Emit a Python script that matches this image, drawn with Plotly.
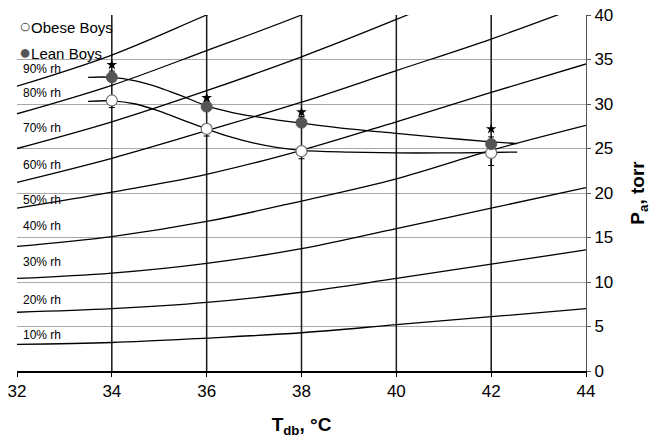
import plotly.graph_objects as go

rh_x = [32, 34, 36, 38, 40, 42, 44]
rh_levels = ["10% rh", "20% rh", "30% rh", "40% rh", "50% rh", "60% rh", "70% rh", "80% rh", "90% rh"]
rh_values = [
    [3.0, 3.2, 3.7, 4.3, 5.2, 6.1, 7.0],
    [6.6, 7.0, 7.7, 8.85, 10.4, 12.0, 13.6],
    [10.4, 11.0, 12.1, 13.75, 16.0, 18.3, 20.6],
    [14.0, 15.1, 16.8, 19.1, 21.6, 24.8, 27.6],
    [18.3, 20.1, 22.1, 24.8, 28.0, 31.3, 34.5],
    [21.2, 23.9, 27.0, 30.2, 33.75, 37.3, 41.2],
    [25.0, 28.0, 31.5, 35.3, 39.5, 44.0, 49.0],
    [28.9, 32.1, 36.0, 40.0, 44.5, 49.5, 55.0],
    [32.0, 35.5, 40.0, 44.5, 49.5, 55.5, 61.5],
]
rh_label_y = [4.1, 8.0, 12.2, 16.3, 19.2, 23.2, 27.3, 31.2, 33.9]

# measured means
temps = [34, 36, 38, 42]
obese_pa = [30.4, 27.2, 24.7, 24.5]
obese_err = [0.8, 0.8, 0.85, 1.4]
lean_pa = [33.0, 29.7, 27.9, 25.5]
lean_err = [0.7, 0.6, 0.7, 0.8]
star_pa = [34.4, 30.7, 29.1, 27.2]

# smooth fitted curves through the means
fit_x = [33.5, 34, 34.5, 35, 35.5, 36, 36.5, 37, 37.5, 38, 39, 40, 41, 42, 42.55]
obese_fit = [30.3, 30.35, 30.0, 29.2, 28.2, 27.2, 26.3, 25.6, 25.1, 24.8, 24.6, 24.5, 24.5, 24.55, 24.6]
lean_fit = [33.0, 33.0, 32.6, 31.85, 30.85, 29.8, 29.1, 28.6, 28.2, 27.85, 27.2, 26.7, 26.2, 25.75, 25.55]

vline_x = [34, 36, 38, 40, 42]
y_range = [0, 40]

FONT = "Liberation Sans, Arial, sans-serif"

fig = go.Figure()

# heavy vertical reference lines
vx, vy = [], []
for v in vline_x:
    vx += [v, v, None]
    vy += [y_range[0], y_range[1], None]
fig.add_trace(go.Scatter(x=vx, y=vy, mode="lines", line=dict(color="#1a1a1a", width=1.5),
                         hoverinfo="skip", showlegend=False))

for name, vals in zip(rh_levels, rh_values):
    fig.add_trace(go.Scatter(x=rh_x, y=vals, mode="lines", name=name,
                             line=dict(color="black", width=1.3, shape="spline"),
                             showlegend=False))

fig.add_trace(go.Scatter(x=fit_x, y=lean_fit, mode="lines", line=dict(color="black", width=1.3, shape="spline"),
                         showlegend=False))
fig.add_trace(go.Scatter(x=fit_x, y=obese_fit, mode="lines", line=dict(color="black", width=1.3, shape="spline"),
                         showlegend=False))

fig.add_trace(go.Scatter(
    x=temps, y=obese_pa, mode="markers", name="Obese Boys",
    marker=dict(symbol="circle", size=11, color="white", line=dict(color="#6e6e6e", width=1.2)),
    error_y=dict(type="data", symmetric=False, array=[0] * len(temps), arrayminus=obese_err,
                 color="black", thickness=1, width=3),
    showlegend=False))
fig.add_trace(go.Scatter(
    x=temps, y=lean_pa, mode="markers", name="Lean Boys",
    marker=dict(symbol="circle", size=11, color="#555555", line=dict(color="#555555", width=1)),
    error_y=dict(type="data", symmetric=False, array=lean_err, arrayminus=[0] * len(temps),
                 color="black", thickness=1, width=3),
    showlegend=False))
fig.add_trace(go.Scatter(x=temps, y=star_pa, mode="markers", marker=dict(symbol="star", size=8, color="black"),
                         hoverinfo="skip", showlegend=False))

# rh labels along the left edge
for name, ly in zip(rh_levels, rh_label_y):
    fig.add_annotation(x=32.08, y=ly, xref="x", yref="y", text=name, showarrow=False,
                       xanchor="left", yanchor="middle", font=dict(family=FONT, size=12, color="black"))

# legend written out as text
fig.add_annotation(x=0.0, y=0.968, xref="paper", yref="paper",
                   text="<span style='color:#555555;font-size:20px'>○</span>Obese Boys", showarrow=False,
                   xanchor="left", yanchor="middle", font=dict(family=FONT, size=15, color="black"))
fig.add_annotation(x=0.0, y=0.897, xref="paper", yref="paper",
                   text="<span style='color:#555555;font-size:20px'>●</span>Lean Boys", showarrow=False,
                   xanchor="left", yanchor="middle", font=dict(family=FONT, size=15, color="black"))

fig.update_layout(
    width=663, height=446,
    margin=dict(l=17, r=77, t=15, b=75),
    paper_bgcolor="white", plot_bgcolor="white",
    font=dict(family=FONT, color="black"),
    xaxis=dict(range=[32, 44], tickvals=[32, 34, 36, 38, 40, 42, 44], automargin=False,
               showgrid=True, gridcolor="#a8a8a8", gridwidth=1, zeroline=False,
               showline=True, linecolor="black", linewidth=1.5,
               ticks="outside", ticklen=4, tickcolor="black",
               tickfont=dict(size=17, family=FONT),
               title=dict(text="<b>T<sub>db</sub>, °C</b>", font=dict(size=19, family=FONT), standoff=18)),
    yaxis=dict(range=y_range, tickvals=[0, 5, 10, 15, 20, 25, 30, 35, 40], side="right", automargin=False,
               showgrid=True, gridcolor="#a8a8a8", gridwidth=1, zeroline=False,
               showline=True, linecolor="#555555", linewidth=1,
               ticks="outside", ticklen=4, tickcolor="#555555",
               tickfont=dict(size=17, family=FONT),
               title=dict(text="<b>P<sub>a</sub>, torr</b>", font=dict(size=19, family=FONT), standoff=18)),
)

# drop the default 8px page margin so the figure sits at the window's corner
fig.write_html("out.html", config={"displayModeBar": False},
               post_script="document.body.style.margin = '0px';")
